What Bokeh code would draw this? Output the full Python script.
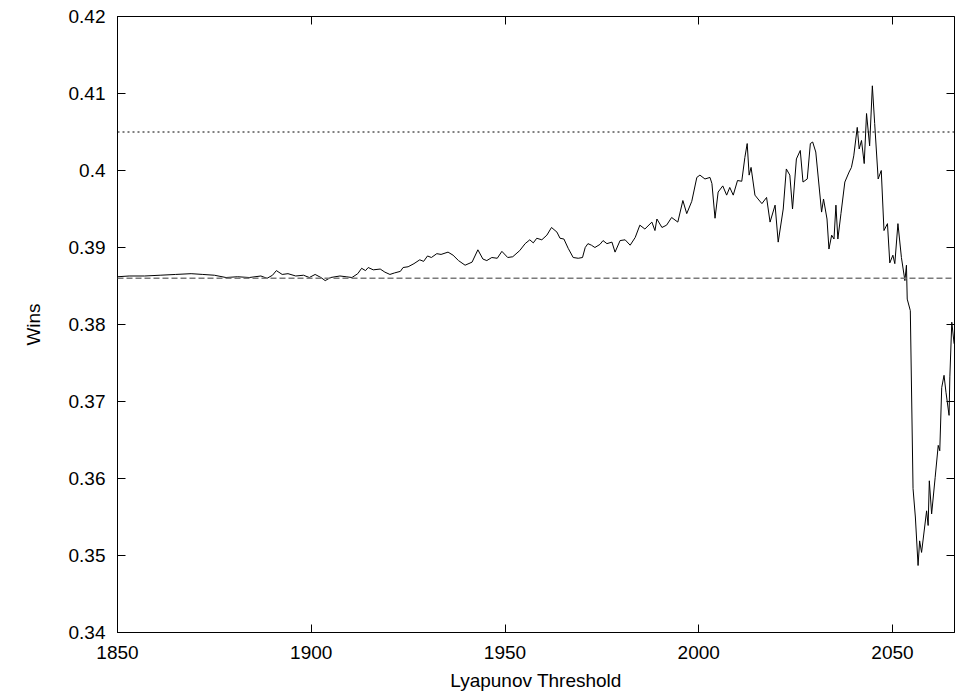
from bokeh.plotting import figure
from bokeh.models import (LinearAxis, FixedTicker, CustomJSTickFormatter, Span,
                          Range1d, ColumnDataSource)
from bokeh.embed import file_html
from bokeh.resources import INLINE

# Lyapunov threshold sweep and resulting win rate
threshold = [
    1850, 1853, 1857, 1861, 1865, 1869, 1872, 1875, 1878, 1881, 1884, 1887,
    1888.6, 1890, 1891, 1892.5, 1894, 1896, 1898, 1899.5, 1901, 1902.5, 1903.6,
    1905, 1907.4, 1909, 1910.5, 1912, 1913, 1914, 1914.7, 1916, 1917.8, 1919,
    1920.3, 1921.5, 1923, 1923.7, 1925, 1926.5, 1928, 1929, 1930, 1931, 1932.4,
    1933.5, 1935.3, 1936.6, 1938, 1939.7, 1941.5, 1943, 1944.3, 1945.3, 1946.6,
    1948, 1949.2, 1950.7, 1952, 1953.8, 1955.2, 1956.4, 1957.3, 1958.2, 1959.5,
    1960.8, 1962, 1963.4, 1964.2, 1965.2, 1966.3, 1967.6, 1968.9, 1970, 1970.7,
    1971.4, 1972.3, 1973.2, 1974.5, 1975.3, 1976.3, 1977.6, 1978.4, 1979.7, 1981,
    1982.3, 1983.6, 1984.8, 1986.1, 1987.9, 1988.7, 1989.2, 1990.5, 1991.7, 1993,
    1994.6, 1995.9, 1996.9, 1998.2, 1999.5, 2000.3, 2001.6, 2002.9, 2003.4,
    2004.2, 2005, 2006.2, 2007.2, 2008, 2008.9, 2010, 2011.1, 2011.9, 2012.5,
    2013, 2013.5, 2014.5, 2015.3, 2016.3, 2017.5, 2018.4, 2019.7, 2020.5, 2021.8,
    2022.6, 2023.5, 2024.2, 2025.2, 2026.2, 2026.9, 2028, 2028.8, 2029.4, 2030.2,
    2031.7, 2032.2, 2033.1, 2033.6, 2034.3, 2034.9, 2035.4, 2035.9, 2036.7,
    2037.7, 2038.8, 2039.4, 2040, 2040.9, 2041.4, 2042, 2042.7, 2043.3, 2044.1,
    2044.8, 2045.4, 2046.3, 2047.1, 2047.8, 2048.7, 2049.3, 2050.1, 2050.6,
    2051.4, 2052.3, 2053.2, 2053.6, 2053.8, 2054.6, 2055.3, 2055.9, 2056.6, 2057,
    2057.5, 2058.8, 2059.2, 2059.5, 2060.1, 2061, 2061.8, 2062.2, 2062.7, 2063.3,
    2063.8, 2064.6, 2064.8, 2065.3, 2065.9,
]
wins = [
    0.3862, 0.3863, 0.3863, 0.3864, 0.3865, 0.3866, 0.3865, 0.3864, 0.3861,
    0.3862, 0.3861, 0.3863, 0.3860, 0.3864, 0.3870, 0.3865, 0.3866, 0.3863,
    0.3864, 0.3861, 0.3865, 0.3861, 0.3857, 0.3861, 0.3863, 0.3862, 0.3861,
    0.3866, 0.3873, 0.3870, 0.3874, 0.3871, 0.3872, 0.3868, 0.3865, 0.3867,
    0.3869, 0.3874, 0.3875, 0.3879, 0.3884, 0.3882, 0.3889, 0.3887, 0.3892,
    0.3891, 0.3894, 0.3890, 0.3883, 0.3877, 0.3881, 0.3897, 0.3885, 0.3883,
    0.3887, 0.3886, 0.3895, 0.3887, 0.3888, 0.3896, 0.3905, 0.3910, 0.3906,
    0.3912, 0.3910, 0.3916, 0.3926, 0.3920, 0.3912, 0.3911, 0.3899, 0.3887,
    0.3886, 0.3887, 0.3900, 0.3905, 0.3903, 0.3900, 0.3904, 0.3909, 0.3905,
    0.3907, 0.3894, 0.3909, 0.3910, 0.3903, 0.3913, 0.3929, 0.3924, 0.3933,
    0.3922, 0.3937, 0.3926, 0.3929, 0.3939, 0.3933, 0.3961, 0.3944, 0.3960,
    0.3991, 0.3994, 0.3989, 0.3991, 0.3983, 0.3938, 0.3972, 0.3980, 0.3968,
    0.3978, 0.3968, 0.3987, 0.3986, 0.4017, 0.4035, 0.3994, 0.4004, 0.3968,
    0.3963, 0.3957, 0.3965, 0.3933, 0.3955, 0.3907, 0.3950, 0.4002, 0.3994,
    0.3950, 0.4015, 0.4026, 0.3985, 0.3989, 0.4035, 0.4037, 0.4024, 0.3946,
    0.3963, 0.3937, 0.3898, 0.3916, 0.3911, 0.3955, 0.3911, 0.3944, 0.3985,
    0.3998, 0.4004, 0.4019, 0.4056, 0.4028, 0.4039, 0.4009, 0.4074, 0.4032,
    0.4110, 0.4061, 0.3989, 0.4000, 0.3922, 0.3931, 0.3880, 0.3890, 0.3879,
    0.3931, 0.3887, 0.3857, 0.3877, 0.3833, 0.3818, 0.3587, 0.3550, 0.3487,
    0.3519, 0.3504, 0.3558, 0.3539, 0.3597, 0.3554, 0.3601, 0.3643, 0.3636,
    0.3718, 0.3734, 0.3712, 0.3682, 0.3732, 0.3803, 0.3775,
]

# Reference levels
upper_level = 0.405
baseline_level = 0.386

x_ticks = [1850, 1900, 1950, 2000, 2050]
y_ticks = [0.34, 0.35, 0.36, 0.37, 0.38, 0.39, 0.40, 0.41, 0.42]

FONT = "Liberation Sans"
FONT_SIZE = "19px"

p = figure(width=955, height=693, output_backend="svg", toolbar_location=None,
           x_range=Range1d(1850, 2066), y_range=Range1d(0.34, 0.42),
           min_border_left=117, min_border_right=1, min_border_top=16,
           min_border_bottom=61, x_axis_label="Lyapunov Threshold",
           y_axis_label="Wins")
p.background_fill_color = "white"
p.border_fill_color = "white"
p.outline_line_color = "black"
p.outline_line_width = 1
p.grid.visible = False

fmt = CustomJSTickFormatter(code="return String(Math.round(tick * 100) / 100);")
blank = CustomJSTickFormatter(code="return '';")

for ax in p.xaxis:
    ax.ticker = FixedTicker(ticks=x_ticks)
for ax in p.yaxis:
    ax.ticker = FixedTicker(ticks=y_ticks)
    ax.formatter = fmt

for ax in p.xaxis + p.yaxis:
    ax.major_tick_in = 8
    ax.major_tick_out = 0
    ax.minor_tick_in = 0
    ax.minor_tick_out = 0
    ax.axis_line_color = "black"
    ax.major_tick_line_color = "black"
    ax.major_label_text_font = FONT
    ax.major_label_text_font_size = FONT_SIZE
    ax.major_label_text_color = "black"
    ax.axis_label_text_font = FONT
    ax.axis_label_text_font_size = FONT_SIZE
    ax.axis_label_text_font_style = "normal"
    ax.axis_label_text_color = "black"

p.xaxis.major_label_standoff = 13
p.xaxis.axis_label_standoff = 8
p.yaxis.major_label_standoff = 12
p.yaxis.axis_label_standoff = 22

# mirrored inward ticks on the top and right edges, without labels
top = LinearAxis(ticker=FixedTicker(ticks=x_ticks), formatter=blank,
                 major_tick_in=8, major_tick_out=0, minor_tick_in=0, minor_tick_out=0,
                 axis_line_color=None, major_label_standoff=0)
right = LinearAxis(ticker=FixedTicker(ticks=y_ticks), formatter=blank,
                   major_tick_in=8, major_tick_out=0, minor_tick_in=0, minor_tick_out=0,
                   axis_line_color=None, major_label_standoff=0)
p.add_layout(top, "above")
p.add_layout(right, "right")

p.add_layout(Span(location=upper_level, dimension="width", line_color="black",
                  line_width=1, line_dash="2 3"))
p.add_layout(Span(location=baseline_level, dimension="width", line_color="#7a7a7a",
                  line_width=1.4, line_dash="6 3"))

src = ColumnDataSource(data=dict(x=threshold, y=wins))
p.line("x", "y", source=src, line_color="black", line_width=1)

open("out.html", "w").write(file_html(p, INLINE))
